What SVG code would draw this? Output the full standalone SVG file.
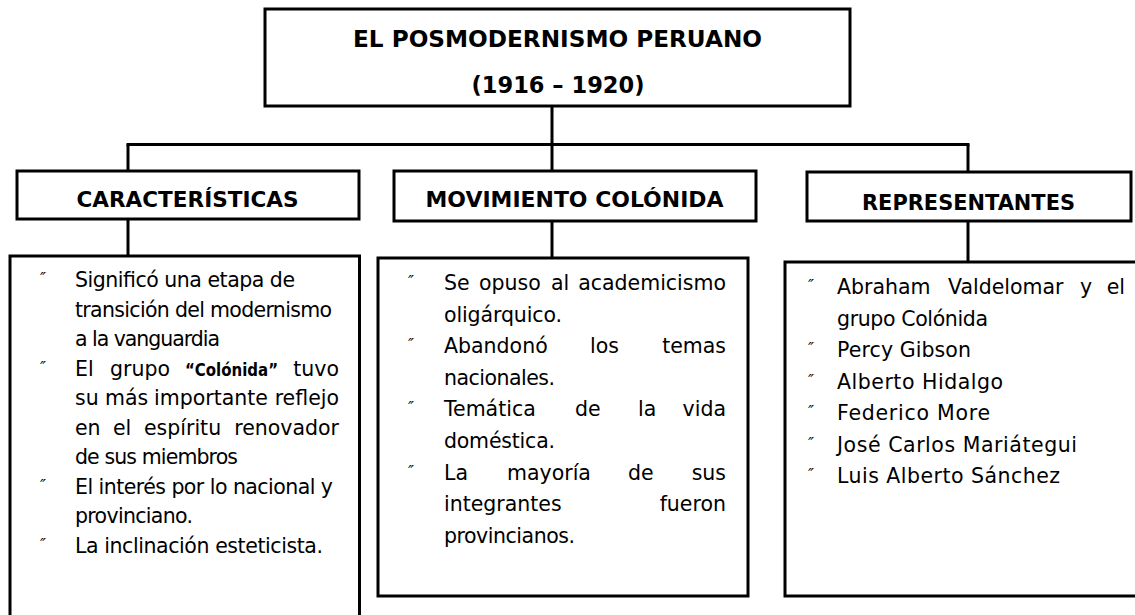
<svg xmlns="http://www.w3.org/2000/svg" width="1135" height="615" viewBox="0 0 1135 615">
<style>
.box{fill:#fff;stroke:#000;stroke-width:3}
.open{fill:none;stroke:#000;stroke-width:3}
#connectors line{stroke:#000;stroke-width:3}
.t{font-family:"DejaVu Sans",sans-serif;font-size:20.5px;fill:#000}
.h{font-family:"DejaVu Sans",sans-serif;font-size:21px;font-weight:bold;fill:#000;text-anchor:middle}
.ti{font-family:"DejaVu Sans",sans-serif;font-size:23px;font-weight:bold;fill:#000;text-anchor:middle}
.bl{font-family:"DejaVu Sans",sans-serif;font-size:16px;font-style:italic;fill:#000}
.bd{font-weight:bold;font-size:18px}
.e{text-anchor:end}
</style>
<rect width="1135" height="615" fill="#fff"/>
<g id="connectors">
<line x1="552" y1="106" x2="552" y2="144.5"/>
<line x1="126.5" y1="144.5" x2="969.5" y2="144.5"/>
<line x1="128" y1="144.5" x2="128" y2="171"/>
<line x1="552" y1="144.5" x2="552" y2="171"/>
<line x1="968" y1="144.5" x2="968" y2="172"/>
<line x1="128" y1="219" x2="128" y2="256"/>
<line x1="552" y1="221" x2="552" y2="258"/>
<line x1="968" y1="221" x2="968" y2="262"/>
</g>
<g id="title">
<rect class="box" x="265" y="9" width="585" height="97"/>
<text class="ti" x="557.5" y="47" textLength="409" lengthAdjust="spacingAndGlyphs">EL POSMODERNISMO PERUANO</text>
<text class="ti" x="558" y="93" textLength="173" lengthAdjust="spacingAndGlyphs">(1916 – 1920)</text>
</g>
<g id="caracteristicas">
<rect class="box" x="17" y="171" width="342" height="48"/>
<text class="h" x="187.5" y="206.5" textLength="222" lengthAdjust="spacingAndGlyphs">CARACTERÍSTICAS</text>
</g>
<g id="movimiento">
<rect class="box" x="394" y="171" width="362" height="50"/>
<text class="h" x="574.5" y="206.5" textLength="298" lengthAdjust="spacingAndGlyphs">MOVIMIENTO COLÓNIDA</text>
</g>
<g id="representantes">
<rect class="box" x="807" y="172" width="324" height="49"/>
<text class="h" x="968.5" y="209.5" textLength="213" lengthAdjust="spacingAndGlyphs">REPRESENTANTES</text>
</g>
<g id="caracteristicas-list">
<path class="open" d="M10,620 V256 H359.5 V620"/>
<text class="bl" x="40" y="284">″</text>
<text class="bl" x="40" y="372.5">″</text>
<text class="bl" x="40" y="490.5">″</text>
<text class="bl" x="40" y="549.5">″</text>
<text class="t" x="75" y="287" textLength="220">Significó una etapa de</text>
<text class="t" x="75" y="316.5" textLength="257">transición del modernismo</text>
<text class="t" x="75" y="346" textLength="145">a la vanguardia</text>
<text class="t" y="375.5"><tspan x="75">El</tspan><tspan x="110">grupo</tspan></text>
<text class="t bd" x="185" y="375.5" textLength="93" lengthAdjust="spacingAndGlyphs">“Colónida”</text>
<text class="t e" x="339" y="375.5">tuvo</text>
<text class="t" y="405"><tspan x="75">su</tspan><tspan x="105">más</tspan><tspan x="154">importante</tspan><tspan x="339" text-anchor="end" class="e">reflejo</tspan></text>
<text class="t" y="434.5"><tspan x="75">en</tspan><tspan x="113">el</tspan><tspan x="144">espíritu</tspan><tspan x="339" text-anchor="end" class="e">renovador</tspan></text>
<text class="t" x="75" y="464" textLength="163">de sus miembros</text>
<text class="t" x="75" y="493.5" textLength="258">El interés por lo nacional y</text>
<text class="t" x="75" y="523" textLength="118">provinciano.</text>
<text class="t" x="75" y="552.5" textLength="248">La inclinación esteticista.</text>
</g>
<g id="movimiento-list">
<rect class="box" x="378" y="258" width="370" height="338"/>
<text class="bl" x="408" y="287">″</text>
<text class="bl" x="408" y="350.2">″</text>
<text class="bl" x="408" y="413.4">″</text>
<text class="bl" x="408" y="476.6">″</text>
<text class="t" y="290"><tspan x="444">Se</tspan><tspan x="479">opuso</tspan><tspan x="551">al</tspan><tspan x="726" text-anchor="end" class="e">academicismo</tspan></text>
<text class="t" x="444" y="321.6" textLength="118">oligárquico.</text>
<text class="t" y="353.2"><tspan x="444">Abandonó</tspan><tspan x="590">los</tspan><tspan x="726" text-anchor="end" class="e">temas</tspan></text>
<text class="t" x="444" y="384.8" textLength="111">nacionales.</text>
<text class="t" y="416.4"><tspan x="444">Temática</tspan><tspan x="575">de</tspan><tspan x="638">la</tspan><tspan x="726" text-anchor="end" class="e">vida</tspan></text>
<text class="t" x="444" y="448" textLength="111">doméstica.</text>
<text class="t" y="479.6"><tspan x="444">La</tspan><tspan x="507">mayoría</tspan><tspan x="628">de</tspan><tspan x="726" text-anchor="end" class="e">sus</tspan></text>
<text class="t" y="511.2"><tspan x="444">integrantes</tspan><tspan x="726" text-anchor="end" class="e">fueron</tspan></text>
<text class="t" x="444" y="542.8" textLength="131">provincianos.</text>
</g>
<g id="representantes-list">
<path class="open" d="M1140,262 H785 V596 H1140"/>
<text class="bl" x="808" y="291">″</text>
<text class="bl" x="808" y="354">″</text>
<text class="bl" x="808" y="385.5">″</text>
<text class="bl" x="808" y="417">″</text>
<text class="bl" x="808" y="448.5">″</text>
<text class="bl" x="808" y="480">″</text>
<text class="t" y="294"><tspan x="837">Abraham</tspan><tspan x="948">Valdelomar</tspan><tspan x="1080">y</tspan><tspan x="1125" text-anchor="end" class="e">el</tspan></text>
<text class="t" x="837" y="325.5" textLength="151">grupo Colónida</text>
<text class="t" x="837" y="357" textLength="134">Percy Gibson</text>
<text class="t" x="837" y="388.5" textLength="166">Alberto Hidalgo</text>
<text class="t" x="837" y="420" textLength="153">Federico More</text>
<text class="t" x="837" y="451.5" textLength="240">José Carlos Mariátegui</text>
<text class="t" x="837" y="483" textLength="223">Luis Alberto Sánchez</text>
</g>
</svg>
